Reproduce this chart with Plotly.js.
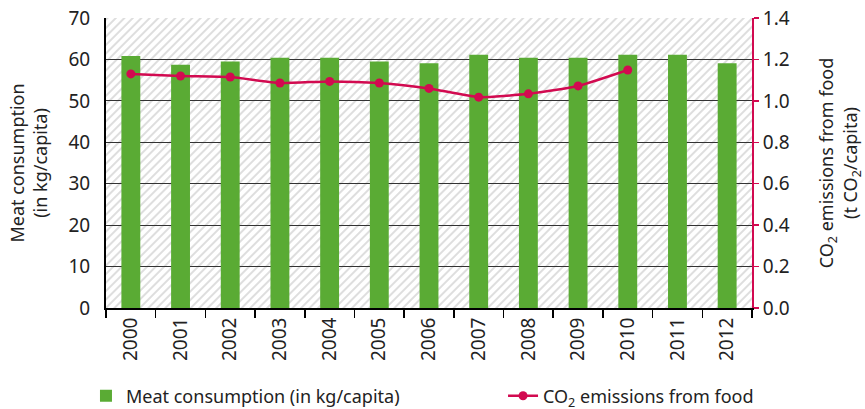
<!DOCTYPE html>
<html><head><meta charset="utf-8">
<script src="https://cdn.plot.ly/plotly-3.0.1.min.js"></script>
<style>html,body{margin:0;padding:0;background:#fff}</style>
</head><body>
<div id="chart" style="width:865px;height:409px"></div>
<script>
const years = ['2000','2001','2002','2003','2004','2005','2006','2007','2008','2009','2010','2011','2012'];
const meat = [60.8, 58.7, 59.5, 60.4, 60.4, 59.5, 59.1, 61.1, 60.4, 60.4, 61.1, 61.1, 59.1];
const co2Years = ['2000','2001','2002','2003','2004','2005','2006','2007','2008','2009','2010'];
const co2 = [1.130, 1.120, 1.115, 1.086, 1.094, 1.086, 1.060, 1.018, 1.034, 1.072, 1.149];

const W = 646, H = 290;
const svg = `<svg xmlns="http://www.w3.org/2000/svg" width="${W}" height="${H}"><defs><pattern id="p" width="6" height="6" patternUnits="userSpaceOnUse" patternTransform="rotate(45)"><rect width="6" height="6" fill="#ffffff"/><rect width="2" height="6" fill="#dedede"/></pattern></defs><rect width="${W}" height="${H}" fill="url(#p)"/></svg>`;
const bg = 'data:image/svg+xml;base64,' + btoa(svg);

const font = 'Noto Sans, DejaVu Sans, sans-serif';
const green = '#5aab34', red = '#d20a50';

const data = [
  {type:'bar', x: years, y: meat, name:'Meat consumption (in kg/capita)',
   marker:{color: green}, yaxis:'y', legend:'legend'},
  {type:'scatter', mode:'lines+markers', x: co2Years, y: co2, yaxis:'y2', legend:'legend2',
   name:'CO<sub>2</sub> emissions from food',
   line:{color: red, width:2.5, shape:'spline', smoothing:0.5},
   marker:{color: red, size:9}}
];

const legendBase = {orientation:'h', xanchor:'left', y:-0.24, yanchor:'top',
  font:{size:18, family: font, color:'#222'}, bgcolor:'rgba(0,0,0,0)'};

const layout = {
  width:865, height:409,
  margin:{l:106, r:113, t:18, b:101, autoexpand:false},
  paper_bgcolor:'#ffffff', plot_bgcolor:'rgba(0,0,0,0)',
  font:{family: font, size:19, color:'#222'},
  bargap:0.62,
  showlegend:true,
  legend:Object.assign({}, legendBase, {x:-0.031}),
  legend2:Object.assign({}, legendBase, {x:0.6146}),
  images:[{source: bg, xref:'paper', yref:'paper', x:0, y:1, sizex:1, sizey:1,
           sizing:'stretch', xanchor:'left', yanchor:'top', layer:'below'}],
  xaxis:{type:'category', range:[-0.5, years.length - 0.5], tickangle:-90, showgrid:false, automargin:false,
         showline:true, linecolor:'#000', linewidth:2,
         ticks:'outside', tickson:'boundaries', ticklen:8, tickcolor:'#000', tickwidth:1.5,
         tickfont:{size:19}, zeroline:false},
  yaxis:{range:[0,70], dtick:10, showgrid:true, gridcolor:'#333', gridwidth:1.2, automargin:false,
         showline:true, linecolor:'#000', linewidth:2, zeroline:false,
         ticks:'', tickfont:{size:19}, ticklabelstandoff:10,
         title:{text:'Meat consumption<br>(in kg/capita)', font:{size:18}, standoff:16}},
  yaxis2:{range:[0,1.4], dtick:0.2, tickformat:'.1f', overlaying:'y', side:'right', automargin:false,
          showgrid:false, zeroline:false, showline:true, linecolor:red, linewidth:2,
          ticks:'outside', ticklen:5, tickcolor:red, tickwidth:1.5, tickfont:{size:19},
          title:{text:'CO<sub>2</sub> emissions from food<br>(t CO<sub>2</sub>/capita)', font:{size:18}, standoff:32}}
};

Plotly.newPlot('chart', data, layout, {displayModeBar:false, staticPlot:true});
</script>
</body></html>
